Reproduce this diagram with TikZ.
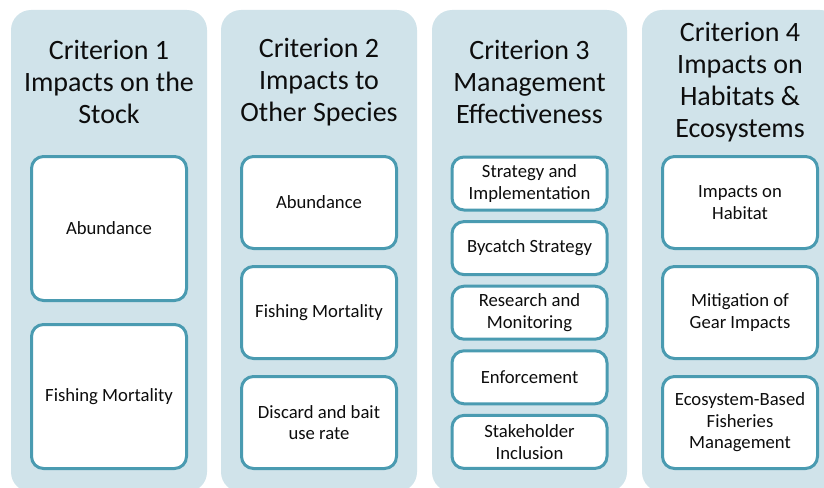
\documentclass[tikz,border=0pt]{standalone}
\usepackage{fontspec}
\setmainfont{Carlito}
\usepackage{tikz}
\usepackage{xcolor}
\definecolor{paneblue}{HTML}{D0E3EA}
\definecolor{boxteal}{HTML}{4A9BB1}
\definecolor{inktext}{HTML}{0D0D0D}

\begin{document}
\begin{tikzpicture}[x=1pt,y=-1pt,
        panel/.style={fill=paneblue, rounded corners=20pt},
        heading/.style={align=center, text=inktext, inner sep=0pt,
            font=\fontsize{28}{32}\selectfont},
        crit/.style={draw=boxteal, fill=white, line width=3pt, rounded corners=12pt,
            align=center, text=inktext, minimum width=155pt, inner sep=0pt,
            font=\fontsize{18.67}{21.5}\selectfont}]
                \useasboundingbox (0,0) rectangle (824,487);
                % the four criterion columns
                \fill[panel] (11,10) rectangle (207,492);
                \fill[panel] (221,10) rectangle (417,492);
                \fill[panel] (432,10) rectangle (627,492);
                \fill[panel] (642,10) rectangle (840,492);
                \node[heading] (head1) at (109,82) {Criterion 1\\Impacts on the\\Stock};
                \node[heading] (head2) at (319,82) {Criterion 2\\Impacts to\\Other Species};
                \node[heading] (head3) at (529.5,82) {Criterion 3\\Management\\Effectiveness};
                \node[heading] (head4) at (740,82.5) {Criterion 4\\Impacts on\\Habitats \&\\Ecosystems};
                % criterion 1
                \node[crit, minimum height=144pt] (stock1) at (109,228.5) {Abundance};
                \node[crit, minimum height=144pt] (stock2) at (109,396.5) {Fishing Mortality};
                % criteria 2 and 4
                \foreach \i/\y/\txt in {1/202.5/Abundance, 2/312.5/Fishing Mortality,
                        3/422.5/{Discard and bait\\use rate}}
                \node[crit, minimum height=92pt] (species\i) at (319,\y) {\txt};
                \foreach \i/\y/\txt in {1/202.5/{Impacts on\\Habitat}, 2/312.5/{Mitigation of\\Gear Impacts},
                        3/422.5/{Ecosystem-Based\\Fisheries\\Management}}
                \node[crit, minimum height=92pt] (habitat\i) at (740,\y) {\txt};
                % criterion 3
                \foreach \i/\txt in {0/{Strategy and\\Implementation}, 1/Bycatch Strategy,
                        2/{Research and\\Monitoring}, 3/Enforcement, 4/{Stakeholder\\Inclusion}}
                \node[crit, minimum height=53pt] (mgmt\i) at (529.5,183.5+64.6*\i) {\txt};
            \end{tikzpicture}
\end{document}
